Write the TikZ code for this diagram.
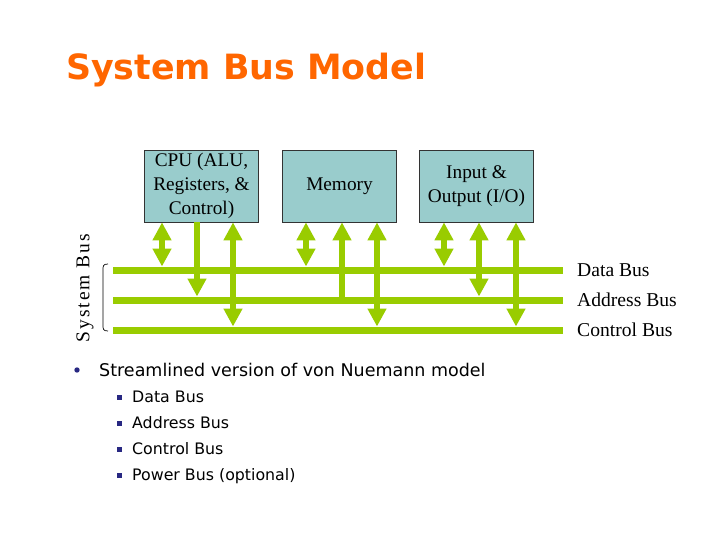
\documentclass[tikz,border=0pt]{standalone}
\usepackage{fontspec}
\setmainfont{Liberation Serif}
\newfontfamily\titlefont{DejaVu Sans}
\newfontfamily\bodyfont{DejaVu Sans}
\newfontfamily\spacedserif[LetterSpace=10]{Liberation Serif}
\usetikzlibrary{arrows.meta}
\definecolor{busgreen}{RGB}{153,204,0}
\definecolor{boxfill}{RGB}{153,204,204}
\definecolor{titleorange}{RGB}{255,102,0}
\definecolor{bulletblue}{RGB}{40,40,130}
\tikzset{
  x=1pt, y=-1pt,
  unitbox/.style={draw=black!80, line width=0.8pt, fill=boxfill, minimum width=114pt, minimum height=72pt, inner sep=0pt, align=center, font=\fontsize{19.3}{24}\selectfont},
  busline/.style={draw=busgreen, line width=7pt},
  tipA/.tip={Triangle[width=18pt,length=18pt]},
  twoway/.style={draw=busgreen, line width=6pt, tipA-tipA},
  oneway/.style={draw=busgreen, line width=6pt, -tipA},
  busname/.style={anchor=base west, inner sep=0pt, font=\fontsize{19.6}{22}\selectfont},
  mainitem/.style={anchor=base west, inner sep=0pt, font=\bodyfont\fontsize{17.5}{21}\selectfont},
  subitem/.style={anchor=base west, inner sep=0pt, font=\bodyfont\fontsize{15.8}{19}\selectfont},
}
\begin{document}
\begin{tikzpicture}
\useasboundingbox (0,0) rectangle (720,540);
\fill[white] (0,0) rectangle (720,540);

% title
\node[anchor=base west, inner sep=0pt, text=titleorange, font=\titlefont\bfseries\fontsize{34.8}{40}\selectfont] (title) at (66,80) {System Bus Model};

% boxes
\node[unitbox] (cpu) at (201.5,186) {CPU (ALU,\\Registers, \&\\Control)};
\node[unitbox] (mem) at (339.5,186) {Memory};
\node[unitbox] (io) at (476.5,186) {Input \&\\Output (I/O)};

% bus lines
\coordinate (dL) at (113,270); \coordinate (dR) at (563,270);
\coordinate (aL) at (113,300); \coordinate (aR) at (563,300);
\coordinate (cL) at (113,330); \coordinate (cR) at (563,330);
\draw[busline] (dL) -- (dR);
\draw[busline] (aL) -- (aR);
\draw[busline] (cL) -- (cR);

% connection points on buses (top edge)
\coordinate (d1) at (162,266.5);
\coordinate (a1) at (197,296.5);
\coordinate (c1) at (233,326.5);
\coordinate (d2) at (306,266.5);
\coordinate (a2) at (342,300);
\coordinate (c2) at (377,326.5);
\coordinate (d3) at (444,266.5);
\coordinate (a3) at (479,296.5);
\coordinate (c3) at (516,326.5);

% arrows
\draw[twoway] (cpu.south -| d1) -- (d1);
\draw[oneway] (cpu.south -| a1) -- (a1);
\draw[twoway] (cpu.south -| c1) -- (c1);
\draw[twoway] (mem.south -| d2) -- (d2);
\draw[oneway] (a2) -- (mem.south -| a2);
\draw[twoway] (mem.south -| c2) -- (c2);
\draw[twoway] (io.south -| d3) -- (d3);
\draw[twoway] (io.south -| a3) -- (a3);
\draw[twoway] (io.south -| c3) -- (c3);

% system bus brace and label
\draw[line width=0.7pt] (108,264) .. controls (103,264) and (103,266) .. (103,270) -- (103,325) .. controls (103,329) and (103,331) .. (108,331);
\node[rotate=90, inner sep=0pt, font=\spacedserif\fontsize{19.5}{22}\selectfont] (sysbus) at (85,288) {System Bus};

% bus names
\node[busname] (dname) at (577,276) {Data Bus};
\node[busname] (aname) at (577,306) {Address Bus};
\node[busname] (cname) at (577,336) {Control Bus};

% bullets
\fill[bulletblue] (77,370) circle (2.7pt);
\node[mainitem] (b0) at (99,376.5) {Streamlined version of von Nuemann model};
\foreach \yy/\tx/\nm in {397/Data Bus/s1, 423/Address Bus/s2, 449/Control Bus/s3, 475/Power Bus (optional)/s4}{
  \fill[bulletblue] (116.5,\yy-2.5) rectangle (121.5,\yy+2.5);
  \node[subitem] (\nm) at (132,\yy+5.8) {\tx};
}
\end{tikzpicture}
\end{document}
